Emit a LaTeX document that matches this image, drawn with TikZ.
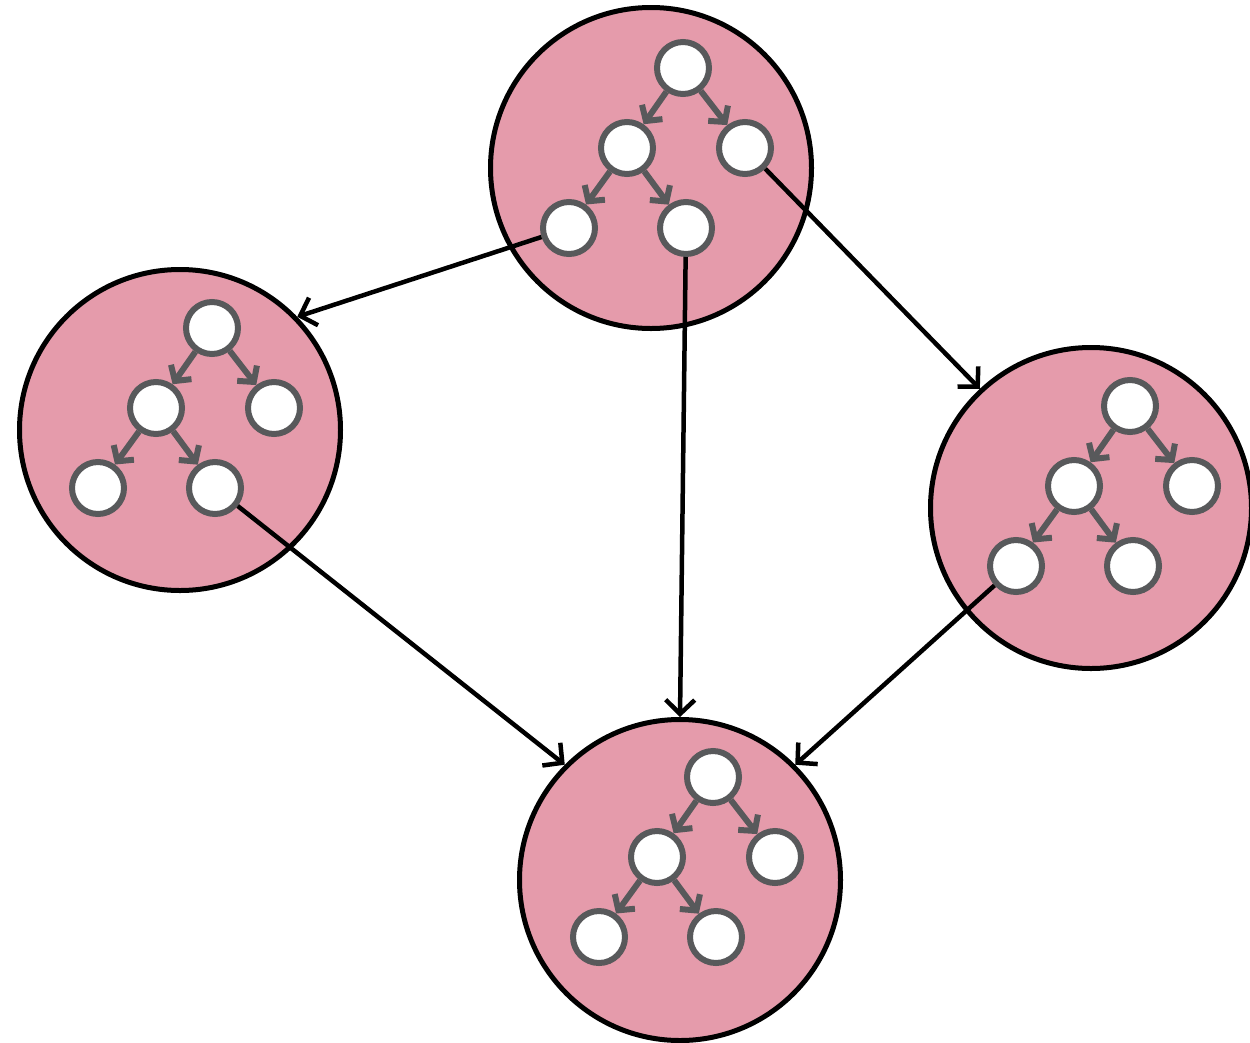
\documentclass[tikz,border=0pt]{standalone}
\usetikzlibrary{arrows.meta}
\definecolor{pinkfill}{RGB}{229,155,171}
\definecolor{graystroke}{RGB}{88,89,91}
\tikzset{
  bigc/.style={circle, draw=black, line width=5pt, fill=pinkfill, minimum size=321pt, inner sep=0pt},
  smallc/.style={circle, draw=graystroke, line width=6pt, fill=white, minimum size=52pt, inner sep=0pt},
  inarrow/.style={draw=graystroke, line width=6pt, -{Straight Barb[length=11pt,width=25pt]}},
  conn/.style={draw=black, line width=4.5pt, -{Straight Barb[length=14pt,width=29pt]}},
}
\newcommand\mytree[3]{%
  \node[smallc] (#1r) at (#2,#3) {};
  \node[smallc] (#1l) at (#2-56,#3+80) {};
  \node[smallc] (#1rr) at (#2+62,#3+80) {};
  \node[smallc] (#1ll) at (#2-114,#3+160) {};
  \node[smallc] (#1lr) at (#2+3,#3+160) {};
  \draw[inarrow] (#1r) -- (#1l);
  \draw[inarrow] (#1r) -- (#1rr);
  \draw[inarrow] (#1l) -- (#1ll);
  \draw[inarrow] (#1l) -- (#1lr);
}
\begin{document}
\begin{tikzpicture}[x=1pt,y=-1pt]
\useasboundingbox (0,0) rectangle (1250,1042);
\node[bigc] (T) at (651,168) {};
\node[bigc] (L) at (180,430) {};
\node[bigc] (R) at (1091,508) {};
\node[bigc] (B) at (680,880) {};
\mytree{t}{683}{68}
\mytree{a}{212}{328}
\mytree{c}{1130}{406}
\mytree{b}{713}{777}
\draw[conn] (tll) -- (L.44);
\draw[conn] (trr) -- (R.133);
\draw[conn] (tlr) -- (B.90);
\draw[conn] (alr) -- (B.135);
\draw[conn] (cll) -- (B.45);
\end{tikzpicture}
\end{document}
